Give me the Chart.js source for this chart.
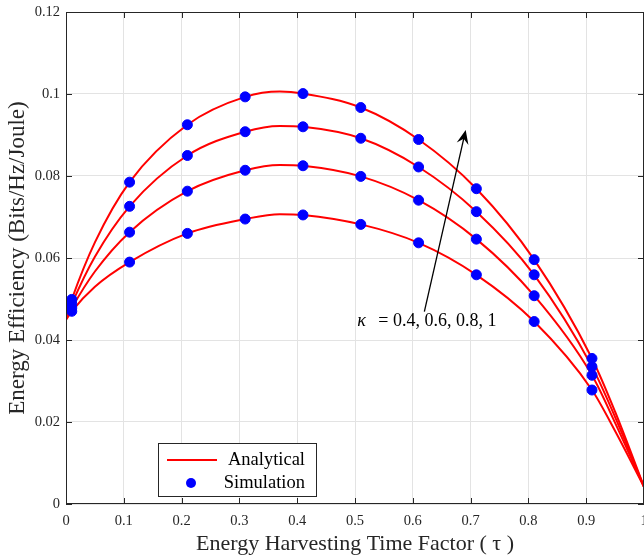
<!doctype html>
<html lang="en">

<head>
    <meta charset="utf-8">
    <title>Energy Efficiency vs Energy Harvesting Time Factor</title>
    <style>
        * {
            margin: 0;
            padding: 0;
        }

        body {
            background: white;
        }

        .chartBox {
            width: 644px;
            height: 557px;
        }
    </style>
</head>

<body>
    <div class="chartBox">
        <canvas id="myChart"></canvas>
    </div>
    <script src="https://cdn.jsdelivr.net/npm/chart.js/dist/chart.umd.min.js"></script>
    <script>
        // data
        const simX = [0.01, 0.11, 0.21, 0.31, 0.41, 0.51, 0.61, 0.71, 0.81, 0.91];
        const simK10 = [0.0499, 0.0785, 0.0925, 0.0993, 0.1001, 0.0967, 0.0889, 0.0769, 0.0596, 0.0355];
        const simK08 = [0.0488, 0.0726, 0.0850, 0.0908, 0.0920, 0.0892, 0.0822, 0.0713, 0.0559, 0.0335];
        const simK06 = [0.0478, 0.0663, 0.0763, 0.0814, 0.0825, 0.0799, 0.0741, 0.0646, 0.0508, 0.0314];
        const simK04 = [0.0470, 0.0590, 0.0660, 0.0695, 0.0705, 0.0682, 0.0637, 0.0559, 0.0445, 0.0278];

        const anaX = [0, 0.01, 0.05, 0.11, 0.21, 0.31, 0.37, 0.41, 0.51, 0.61, 0.71, 0.81, 0.91, 0.95, 1];
        const anaK10 = [0.0455, 0.0499, 0.0638, 0.0785, 0.0925, 0.0993, 0.1006, 0.1001, 0.0967, 0.0889, 0.0769, 0.0596, 0.0355, 0.0225, 0.0042];
        const anaK08 = [0.0453, 0.0488, 0.0603, 0.0726, 0.0850, 0.0908, 0.0922, 0.0920, 0.0892, 0.0822, 0.0713, 0.0559, 0.0335, 0.0212, 0.0042];
        const anaK06 = [0.0451, 0.0478, 0.0567, 0.0663, 0.0763, 0.0814, 0.0827, 0.0825, 0.0799, 0.0741, 0.0646, 0.0508, 0.0314, 0.0198, 0.0042];
        const anaK04 = [0.0449, 0.0470, 0.0530, 0.0590, 0.0660, 0.0695, 0.0707, 0.0705, 0.0682, 0.0637, 0.0559, 0.0445, 0.0278, 0.0178, 0.0042];

        const xTicks = [0, 0.1, 0.2, 0.3, 0.4, 0.5, 0.6, 0.7, 0.8, 0.9, 1];
        const yTicks = [0, 0.02, 0.04, 0.06, 0.08, 0.1, 0.12];

        const legendLabels = ['Analytical', 'Simulation'];
        const kappaText = '= 0.4, 0.6, 0.8, 1';

        const SERIF = '"Liberation Serif", "DejaVu Serif", serif';
        const AXIS = '#262626';

        const toPts = (xs, ys) => xs.map((x, i) => ({ x: x, y: ys[i] }));

        function lineSet(ys) {
            return {
                type: 'line',
                data: toPts(anaX, ys),
                borderColor: '#ff0000',
                borderWidth: 2,
                pointRadius: 0,
                cubicInterpolationMode: 'monotone',
                fill: false,
                order: 2
            };
        }

        function dotSet(ys) {
            return {
                type: 'scatter',
                data: toPts(simX, ys),
                backgroundColor: '#0000ff',
                borderColor: '#0000ff',
                pointRadius: 5,
                pointHoverRadius: 5,
                order: 1
            };
        }

        const fmt = v => String(+v.toFixed(2));

        // frame, inward ticks, legend and arrow annotation
        const decor = {
            id: 'decor',
            afterDraw(chart) {
                const { ctx, chartArea: a, scales } = chart;
                const x = scales.x, y = scales.y;
                ctx.save();
                ctx.strokeStyle = AXIS;
                ctx.lineWidth = 1;
                ctx.strokeRect(a.left + 0.5, a.top + 0.5, a.right - a.left - 1, a.bottom - a.top - 1);
                ctx.beginPath();
                xTicks.forEach(t => {
                    const px = Math.round(x.getPixelForValue(t)) + 0.5;
                    ctx.moveTo(px, a.bottom); ctx.lineTo(px, a.bottom - 6);
                    ctx.moveTo(px, a.top); ctx.lineTo(px, a.top + 6);
                });
                yTicks.forEach(t => {
                    const py = Math.round(y.getPixelForValue(t)) + 0.5;
                    ctx.moveTo(a.left, py); ctx.lineTo(a.left + 6, py);
                    ctx.moveTo(a.right, py); ctx.lineTo(a.right - 6, py);
                });
                ctx.stroke();

                // legend box
                const lx = 158, ly = 443, lw = 158, lh = 53;
                ctx.fillStyle = 'white';
                ctx.fillRect(lx, ly, lw, lh);
                ctx.strokeStyle = AXIS;
                ctx.strokeRect(lx + 0.5, ly + 0.5, lw, lh);
                ctx.strokeStyle = '#ff0000';
                ctx.lineWidth = 2;
                ctx.beginPath();
                ctx.moveTo(167, 460); ctx.lineTo(217, 460);
                ctx.stroke();
                ctx.fillStyle = '#0000ff';
                ctx.beginPath();
                ctx.arc(191, 483, 5, 0, Math.PI * 2);
                ctx.fill();
                ctx.fillStyle = '#000';
                ctx.font = '18.5px ' + SERIF;
                ctx.textAlign = 'right';
                ctx.textBaseline = 'middle';
                ctx.fillText(legendLabels[0], 305, 460);
                ctx.fillText(legendLabels[1], 305, 483);

                // arrow
                const x0 = x.getPixelForValue(0.62), y0 = y.getPixelForValue(0.0469);
                const x1 = x.getPixelForValue(0.6915), y1 = y.getPixelForValue(0.0912);
                const ang = Math.atan2(y1 - y0, x1 - x0);
                ctx.strokeStyle = '#000';
                ctx.lineWidth = 1.3;
                ctx.beginPath();
                ctx.moveTo(x0, y0);
                ctx.lineTo(x1 - 6 * Math.cos(ang), y1 - 6 * Math.sin(ang));
                ctx.stroke();
                ctx.fillStyle = '#000';
                ctx.translate(x1, y1);
                ctx.rotate(ang);
                ctx.beginPath();
                ctx.moveTo(0, 0);
                ctx.lineTo(-14, -6);
                ctx.lineTo(-9, 0);
                ctx.lineTo(-14, 6);
                ctx.closePath();
                ctx.fill();
                ctx.setTransform(1, 0, 0, 1, 0, 0);

                // kappa label
                const tx = x.getPixelForValue(0.504), ty = y.getPixelForValue(0.0445);
                ctx.textAlign = 'left';
                ctx.textBaseline = 'middle';
                ctx.font = 'italic 18px ' + SERIF;
                ctx.fillText('κ', tx, ty);
                ctx.font = '18px ' + SERIF;
                ctx.fillText(kappaText, tx + 21, ty);
                ctx.restore();
            }
        };

        const config = {
            type: 'scatter',
            data: {
                datasets: [
                    lineSet(anaK10), lineSet(anaK08), lineSet(anaK06), lineSet(anaK04),
                    dotSet(simK10), dotSet(simK08), dotSet(simK06), dotSet(simK04)
                ]
            },
            options: {
                responsive: true,
                maintainAspectRatio: false,
                animation: false,
                layout: { autoPadding: false, padding: { left: 0, right: 0, top: 12, bottom: 0 } },
                plugins: {
                    legend: { display: false },
                    tooltip: { enabled: false }
                },
                scales: {
                    x: {
                        type: 'linear',
                        min: 0,
                        max: 1,
                        afterFit: s => {
                            s.height = 53;
                            s.paddingLeft = 0;
                            s.paddingRight = 0;
                        },
                        afterBuildTicks: s => { s.ticks = xTicks.map(v => ({ value: v })); },
                        grid: { color: '#e3e3e3', drawTicks: false },
                        border: { display: false },
                        ticks: {
                            callback: fmt,
                            color: AXIS,
                            padding: 8,
                            maxRotation: 0,
                            font: { family: SERIF, size: 14.5 }
                        },
                        title: {
                            display: true,
                            text: 'Energy Harvesting Time Factor ( τ )',
                            color: AXIS,
                            padding: { top: 0, bottom: 0 },
                            font: { family: SERIF, size: 22 }
                        }
                    },
                    y: {
                        type: 'linear',
                        min: 0,
                        max: 0.12,
                        afterFit: s => {
                            s.width = 66;
                            s.paddingTop = 0;
                            s.paddingBottom = 0;
                        },
                        afterBuildTicks: s => { s.ticks = yTicks.map(v => ({ value: v })); },
                        grid: { color: '#e3e3e3', drawTicks: false },
                        border: { display: false },
                        ticks: {
                            callback: fmt,
                            color: AXIS,
                            padding: 6,
                            font: { family: SERIF, size: 14.5 }
                        },
                        title: {
                            display: true,
                            text: 'Energy Efficiency (Bits/Hz/Joule)',
                            color: AXIS,
                            padding: { top: 4, bottom: 0 },
                            font: { family: SERIF, size: 23 }
                        }
                    }
                }
            },
            plugins: [decor]
        };

        new Chart(document.getElementById('myChart'), config);
    </script>
</body>

</html>
